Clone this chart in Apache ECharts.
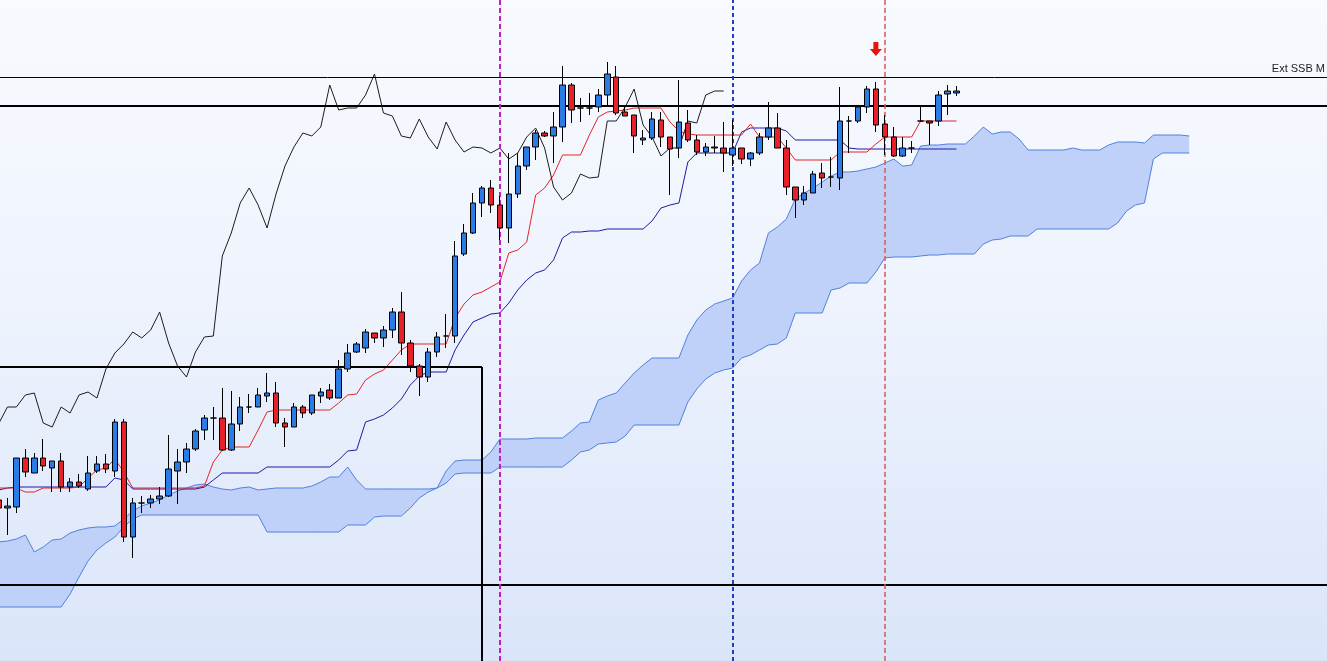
<!DOCTYPE html>
<html><head><meta charset="utf-8">
<script src="https://cdn.jsdelivr.net/npm/echarts@6/dist/echarts.min.js"></script>
<style>
html,body{margin:0;padding:0;overflow:hidden;width:1327px;height:661px;background:linear-gradient(to bottom,#f8fafe 0%,#eef3fd 45%,#dae5f9 100%);}
#chart{position:absolute;left:-6px;top:0;width:1334px;height:661px;}
</style>
</head><body><div id="chart"></div>
<script>
// Price candles: [open, close, low, high]
const candles = [
[161,153,151,163],[153,155,126,163],[154,203,148,203],[203,189,184,212],[188,203,188,208],
[203,195,190,222],[193,200,169,200],[200,174,169,208],[174,179,169,183],[179,175,173,187],
[172,188,170,205],[190,197,188,205],[197,192,188,207],[190,239,184,242],[239,124,119,242],
[124,158,103,163],[158,158,148,165],[158,162,153,166],[162,165,157,174],[165,192,164,226],
[190,199,157,212],[199,212,188,218],[212,230,210,232],[231,243,221,246],[243,243,221,254],
[243,211,210,273],[211,237,210,270],[237,254,230,264],[254,254,248,267],[254,266,254,273],
[265,268,259,288],[268,238,234,279],[238,234,214,243],[234,254,234,258],[254,248,243,256],
[248,266,246,266],[265,269,258,273],[271,263,261,277],[263,292,263,301],[292,308,289,317],
[309,317,308,319],[313,329,308,332],[328,323,318,328],[323,331,314,335],[331,349,323,353],
[349,318,306,369],[318,295,289,321],[295,284,265,297],[284,309,279,313],[309,324,304,329],
[325,325,313,347],[325,405,318,420],[407,428,405,437],[428,458,427,468],[458,473,444,475],
[473,456,448,481],[456,433,421,465],[433,467,418,508],[467,495,463,508],[495,514,491,514],
[514,528,501,531],[528,525,524,530],[525,534,498,549],[534,576,519,595],[576,551,538,578],
[553,553,539,563],[553,553,546,568],[554,566,549,572],[566,587,556,599],[584,548,546,595],
[549,545,545,556],[546,525,508,546],[521,523,516,531],[523,542,521,549],[541,524,514,549],
[524,512,466,524],[513,539,503,581],[538,521,519,551],[521,509,506,526],[509,514,505,518],
[514,513,508,525],[513,508,489,539],[506,513,495,541],[513,502,497,513],[502,508,495,509],
[508,524,506,528],[524,533,521,559],[533,513,513,548],[513,474,466,521],[474,461,443,474],
[461,468,456,475],[468,487,468,490],[488,483,473,498],[484,484,474,504],[483,540,471,574],
[540,540,508,545],[540,554,538,554],[554,572,548,575],[572,536,529,579],[537,524,506,546],
[524,505,504,534],[505,513,504,524],[513,513,508,520],[540,540,540,554],[540,538,516,540],
[540,566,535,570],[567,570,546,576],[568,570,565,575]
];

const tenkan = [
173,173,173,169,169,173,173,173,173,174,183,191,193,202,189,
173,173,173,173,173,173,173,173,175,199,211,214,214,214,231,249,
251,251,251,251,251,251,251,258,266,267,281,287,291,301,311,
317,317,317,317,317,343,357,366,369,374,379,408,411,419,466,473,486,
506,506,506,526,544,549,550,551,553,553,553,553,539,530,527,
526,526,526,526,526,526,537,524,524,524,513,501,501,501,501,501,
509,509,509,509,517,524,524,524,524,540,540,540,540,540
];

const kijun = [
171,173,174,174,174,174,174,174,174,174,174,174,174,183,181,
172,172,172,172,172,172,172,172,174,181,188,188,188,188,188,
194,194,194,194,194,194,194,194,201,210,211,239,242,246,253,262,276,285,
289,289,289,311,326,339,343,347,348,358,371,381,388,391,401,423,
429,429,430,430,432,432,432,432,432,440,453,456,458,499,
508,508,508,508,508,529,533,533,533,533,530,521,521,521,521,521,521,513,
512,512,512,512,512,512,512,512,512,512,512,512
];

// Ichimoku cloud edges (already shifted 26 periods ahead)
const cloudTop = [
119,120,122,126,109,114,121,122,128,131,133,134,134,135,142,150,
155,158,161,166,170,173,176,177,174,172,171,173,174,171,172,
173,173,173,173,175,179,184,184,194,181,
172,172,172,172,172,172,172,172,173,190,200,201,201,201,209,
222,222,222,222,223,223,223,223,230,238,239,261,265,268,278,
288,296,303,303,303,303,326,341,351,357,360,363,380,391,398,
428,434,442,462,468,473,479,485,489,489,490,492,494,498,502,
495,496,515,516,516,517,517,517,525,534,527,529,529,522,511,
511,511,511,511,513,511,511,511,516,519,519,519,518,526,526,526,526,525
];
const cloudBottom = [
54,54,54,54,54,54,54,54,67,84,100,111,118,124,134,142,
146,146,146,146,146,146,146,146,146,146,146,146,146,146,129,
129,129,129,129,129,129,129,129,136,136,
136,144,145,145,145,153,163,169,173,178,187,188,188,188,188,
194,194,194,194,194,194,194,194,201,209,211,217,218,219,225,
236,236,236,236,236,236,259,272,282,288,291,293,303,306,311,
316,317,323,348,348,348,348,371,373,378,378,378,389,403,404,
404,404,405,406,406,407,407,407,407,417,421,422,425,425,425,
432,432,432,432,432,432,432,432,432,438,450,456,458,502,508,508,508,508
];

const levels = [584, 555, 76];          // horizontal price levels
const levelLabels = ['Ext SSB M', '', ''];
const eventBars = [56, 82, 99];         // bars with vertical markers
const arrowBar = 98, arrowPrice = 612;
const boxRightBar = 54, boxTopPrice = 294;

const totalBars = 149;
const categories = [];
for (let i = 0; i < totalBars; i++) categories.push(String(i));

const chikou = candles.slice(26).map(c => c[1]);
const cloudBand = cloudTop.map((t, i) => t - cloudBottom[i]);

const chart = echarts.init(document.getElementById('chart'), null, {renderer: 'canvas'});
chart.setOption({
  animation: false,
  backgroundColor: 'transparent',
  grid: {left: 0, top: 0, right: 0, bottom: 0},
  xAxis: {type: 'category', data: categories, show: false, boundaryGap: true},
  yAxis: {type: 'value', min: 0, max: 661, show: false, splitLine: {show: false}},
  series: [
    {type: 'line', data: cloudBottom, stack: 'cloud', symbol: 'none', silent: true,
     lineStyle: {opacity: 0}, z: 1},
    {type: 'line', data: cloudBand, stack: 'cloud', symbol: 'none', silent: true,
     lineStyle: {opacity: 0}, areaStyle: {color: '#bfd1f8', opacity: 1}, z: 1},
    {type: 'line', data: cloudTop, symbol: 'none', silent: true,
     lineStyle: {color: '#5080dc', width: 1}, z: 2},
    {type: 'line', data: cloudBottom, symbol: 'none', silent: true,
     lineStyle: {color: '#5080dc', width: 1}, z: 2},
    {type: 'line', data: kijun, symbol: 'none', silent: true,
     lineStyle: {color: '#1a1aa6', width: 1}, z: 3},
    {type: 'line', data: tenkan, symbol: 'none', silent: true,
     lineStyle: {color: '#e42424', width: 1}, z: 3},
    {type: 'line', data: chikou, symbol: 'none', silent: true,
     lineStyle: {color: '#1c1c1c', width: 1}, z: 3},
    {type: 'candlestick', data: candles, barWidth: 6, z: 5,
     itemStyle: {color: '#2a7be4', color0: '#e8202a', borderColor: '#000', borderColor0: '#000',
                 borderColorDoji: '#000', borderWidth: 1},
     markLine: {
       silent: true, symbol: ['none', 'none'], animation: false,
       label: {show: false},
       data: [
         ...levels.map((v, i) => ({
           yAxis: v,
           lineStyle: {color: '#000', width: i === 0 ? 1 : 2, type: 'solid'},
           label: levelLabels[i] ? {show: true, formatter: levelLabels[i], position: 'insideEndTop',
                   color: '#222', fontSize: 11, fontFamily: 'Liberation Sans, Arial, sans-serif', distance: [3, 3]} : {show: false}
         })),
         {xAxis: eventBars[0], lineStyle: {color: '#c21fc2', width: 2, type: [5, 3]}},
         {xAxis: eventBars[1], lineStyle: {color: '#1f3fc4', width: 2, type: [4, 3]}},
         {xAxis: eventBars[2], lineStyle: {color: '#d65a5a', width: 1.5, type: [5, 3]}},
         [{coord: [0, boxTopPrice]}, {coord: [boxRightBar, boxTopPrice]}],
         [{coord: [boxRightBar, boxTopPrice]}, {coord: [boxRightBar, 0]}]
       ].map(d => Array.isArray(d) ? d.map(p => Object.assign({lineStyle: {color: '#000', width: 2, type: 'solid'}}, p)) : d)
     },
     markPoint: {
       silent: true, animation: false,
       data: [{coord: [arrowBar, arrowPrice],
               symbol: 'path://M3.5,0 L8.5,0 L8.5,7 L12,7 L6,14 L0,7 L3.5,7 Z',
               symbolSize: [12, 14], itemStyle: {color: '#e8140c'}, label: {show: false}}]
     }
    }
  ]
});
</script></body></html>
